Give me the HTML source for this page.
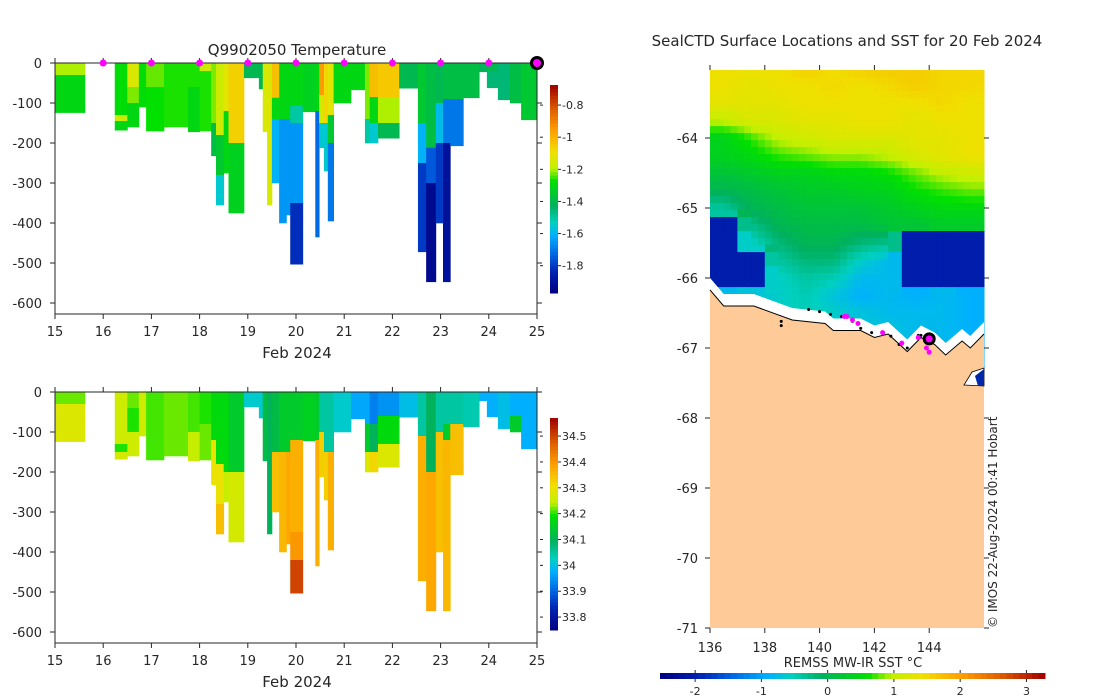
<!DOCTYPE html>
<html><head><meta charset="utf-8">
<style>
html,body{margin:0;padding:0;background:#fff;}
svg{display:block;font-family:"DejaVu Sans","Liberation Sans",sans-serif;}
</style></head>
<body>
<svg id="fig" width="1100" height="700" viewBox="0 0 1100 700" xmlns="http://www.w3.org/2000/svg">
<rect width="1100" height="700" fill="#fff"/>
</svg>
<script>
// ===== Profile chart data =====
const profileStart = [15.0,16.24,16.5,16.74,16.89,17.26,17.76,18.0,18.24,18.34,18.5,18.6,18.92,19.23,19.31,19.4,19.5,19.65,19.8,19.88,20.14,20.4,20.48,20.58,20.66,20.78,21.14,21.43,21.53,21.7,22.14,22.53,22.7,22.9,23.05,23.2,23.47,23.8,23.96,24.19,24.44,24.67];
const profileEnd = [15.62,16.5,16.74,16.89,17.26,17.76,18.0,18.24,18.34,18.5,18.6,18.92,19.23,19.31,19.4,19.5,19.65,19.8,19.88,20.14,20.4,20.48,20.58,20.66,20.78,21.14,21.43,21.53,21.7,22.14,22.53,22.7,22.9,23.05,23.2,23.47,23.8,23.96,24.19,24.44,24.67,25.0];
// layers: [bottomDepth, value] from surface down
const tempLayers = [
 [[30,-1.2],[124,-1.3]],
 [[130,-1.28],[145,-1.17],[168,-1.3]],
 [[60,-1.14],[100,-1.22],[160,-1.3]],
 [[110,-1.28]],
 [[60,-1.23],[170,-1.27]],
 [[160,-1.26]],
 [[60,-1.26],[172,-1.3]],
 [[20,-1.17],[170,-1.26]],
 [[150,-1.22],[232,-1.38]],
 [[180,-1.17],[280,-1.35],[355,-1.55]],
 [[120,-1.12],[275,-1.3]],
 [[200,-1.06],[375,-1.32]],
 [[37,-1.4]],
 [[65,-1.4]],
 [[172,-1.14]],
 [[355,-1.14]],
 [[87,-1.02],[140,-1.3],[300,-1.6]],
 [[140,-1.3],[400,-1.65]],
 [[140,-1.3],[380,-1.65]],
 [[107,-1.3],[150,-1.5],[350,-1.65],[503,-1.82]],
 [[122,-1.32]],
 [[120,-1.3],[435,-1.72]],
 [[80,-0.95],[150,-1.15],[212,-1.55]],
 [[150,-1.07],[270,-1.55]],
 [[130,-1.12],[200,-1.35],[395,-1.7]],
 [[100,-1.3]],
 [[67,-1.3]],
 [[140,-1.22],[200,-1.5]],
 [[85,-1.02],[150,-1.3],[200,-1.55]],
 [[85,-1.04],[150,-1.2],[188,-1.4]],
 [[63,-1.4]],
 [[150,-1.35],[250,-1.6],[472,-1.8]],
 [[212,-1.38],[300,-1.75],[547,-1.93]],
 [[100,-1.4],[200,-1.58],[400,-1.8]],
 [[90,-1.38],[200,-1.7],[547,-1.9]],
 [[90,-1.38],[207,-1.7]],
 [[87,-1.38]],
 [[22,-1.42]],
 [[20,-1.4],[62,-1.45]],
 [[92,-1.45]],
 [[100,-1.38]],
 [[142,-1.35]]
];
const salLayers = [
 [[30,34.22],[124,34.28]],
 [[130,34.26],[150,34.2],[168,34.27]],
 [[40,34.22],[100,34.2],[160,34.26]],
 [[110,34.26]],
 [[170,34.21]],
 [[160,34.22]],
 [[100,34.21],[172,34.25]],
 [[80,34.2],[170,34.22]],
 [[120,34.18],[232,34.3]],
 [[180,34.18],[280,34.3],[355,34.35]],
 [[200,34.18],[275,34.25]],
 [[200,34.15],[375,34.27]],
 [[37,34.02]],
 [[65,34.02]],
 [[172,34.12]],
 [[355,34.1]],
 [[150,34.12],[300,34.35]],
 [[150,34.15],[400,34.36]],
 [[150,34.15],[380,34.38]],
 [[120,34.15],[350,34.37],[420,34.4],[503,34.5]],
 [[122,34.16]],
 [[120,34.15],[435,34.37]],
 [[100,34.05],[212,34.33]],
 [[150,34.05],[270,34.33]],
 [[150,34.05],[395,34.37]],
 [[100,34.02]],
 [[67,33.97]],
 [[80,33.97],[150,34.15],[200,34.28]],
 [[80,33.93],[150,34.1],[200,34.32]],
 [[60,33.95],[130,34.18],[188,34.28]],
 [[63,34.0]],
 [[110,34.05],[472,34.37]],
 [[200,34.1],[547,34.38]],
 [[100,34.05],[400,34.35]],
 [[80,34.05],[120,34.15],[547,34.36]],
 [[80,34.05],[207,34.35]],
 [[87,34.04]],
 [[22,33.98]],
 [[62,33.98]],
 [[92,34.0]],
 [[60,33.98],[100,34.15]],
 [[142,33.98]]
];
const dayTicks = [15,16,17,18,19,20,21,22,23,24,25];
const depthTicks = [0,-100,-200,-300,-400,-500,-600];
const markerDays = [16,17,18,19,20,21,22,23,24];
const currentDay = 25;
const tempTicks = [-0.8,-1,-1.2,-1.4,-1.6,-1.8];
const salTicks = [34.5,34.4,34.3,34.2,34.1,34,33.9,33.8];

// ===== Map data =====
const sstLons = [136,137,138,139,140,141,142,143,144,145];
const sstLats = [-63,-63.25,-63.5,-63.75,-64,-64.25,-64.5,-64.75,-65,-65.25,-65.5,-65.75,-66,-66.25,-66.5,-66.75,-67];
const sstGrid = [
 [1.4,1.4,1.4,1.6,1.4,1.6,1.6,1.6,1.5,1.5],
 [1.4,1.3,1.4,1.4,1.5,1.4,1.5,1.6,1.5,1.5],
 [1.3,1.3,1.3,1.4,1.4,1.4,1.4,1.4,1.5,1.4],
 [1.0,1.2,1.2,1.3,1.3,1.4,1.4,1.3,1.4,1.4],
 [0.4,0.7,1.0,1.1,1.2,1.2,1.2,1.3,1.3,1.4],
 [0.4,0.5,0.7,0.8,0.9,0.9,1.0,1.2,1.3,1.4],
 [0.2,0.3,0.4,0.4,0.5,0.5,0.6,0.8,1.0,1.1],
 [0.0,0.1,0.2,0.3,0.3,0.4,0.4,0.6,0.7,0.8],
 [-0.4,0.0,0.1,0.2,0.2,0.2,0.3,0.4,0.5,0.5],
 [-2,-0.3,0.0,0.1,0.1,0.1,0.2,0.2,0.3,0.3],
 [-2,-0.6,-0.2,0.0,0.0,-0.2,-0.3,-2,-2,-2],
 [-2,-2,-0.4,-0.2,-0.2,-0.6,-0.8,-2,-2,-2],
 [-2,-2,-0.6,-0.4,-0.5,-0.8,-0.8,-2,-2,-2],
 [-0.8,-0.7,-0.6,-0.5,-0.7,-0.9,-0.8,-0.9,-0.8,-0.9],
 [-0.8,-0.7,-0.6,-0.5,-0.6,-0.7,-0.8,-0.8,-0.8,-0.9],
 [-0.8,-0.7,-0.6,-0.5,-0.6,-0.7,-0.7,-0.8,-0.8,-0.9],
 [-0.7,-0.7,-0.6,-0.5,-0.6,-0.7,-0.7,-0.8,-0.8,-0.9]
];
const coastLons = [136,136.5,137.6,139,140.2,140.5,141.5,142,142.5,143.2,143.7,144.2,144.6,145.2,145.5,146];
const coastLats = [-66.17,-66.4,-66.4,-66.6,-66.65,-66.75,-66.75,-66.85,-66.8,-67.05,-66.85,-66.95,-67.1,-66.9,-67.0,-66.8];
const stationLons = [140.9,141.2,141.4,142.3,143.0,143.6,143.9,144.0,141.0];
const stationLats = [-66.55,-66.6,-66.65,-66.78,-66.93,-66.85,-67.0,-67.06,-66.55];
const trackLons = [139.6,140.0,140.4,140.8,141.2,141.5,141.9,142.6,142.9,143.2,143.6,143.7,138.6,138.6];
const trackLats = [-66.45,-66.48,-66.52,-66.55,-66.62,-66.72,-66.78,-66.83,-66.95,-67.0,-66.82,-66.82,-66.62,-66.68];
const currentLon = 144.0, currentLat = -66.87;
const lonTicks = [136,138,140,142,144];
const latTicks = [-64,-65,-66,-67,-68,-69,-70,-71];
const sstTicks = [-2,-1,0,1,2,3];

// ===== helpers =====
const NS = 'http://www.w3.org/2000/svg';
const svg = document.getElementById('fig');
function mk(tag, attrs, parent) {
  const e = document.createElementNS(NS, tag);
  for (const k in attrs) e.setAttribute(k, attrs[k]);
  (parent || svg).appendChild(e);
  return e;
}
const stops = [[0,[0,0,128]],[0.1,[0,32,176]],[0.18,[0,96,224]],[0.28,[0,176,255]],[0.34,[0,208,192]],[0.42,[0,176,96]],[0.54,[0,224,0]],[0.6,[192,240,0]],[0.68,[240,224,0]],[0.78,[255,160,0]],[0.88,[224,96,0]],[1,[160,0,0]]];
function cmap(t) {
  t = Math.max(0, Math.min(1, t));
  for (let i = 1; i < stops.length; i++) {
    if (t <= stops[i][0]) {
      const a = stops[i-1], b = stops[i], f = (t - a[0]) / (b[0] - a[0]);
      const c = a[1].map((v, j) => Math.round(v + (b[1][j] - v) * f));
      return 'rgb(' + c.join(',') + ')';
    }
  }
  return 'rgb(160,0,0)';
}
function text(x, y, s, size, anchor, name, extra) {
  const t = mk('text', Object.assign({x: x, y: y, 'font-size': size, 'text-anchor': anchor || 'middle', fill: '#262626'}, extra || {}));
  t.textContent = s;
  
  
  return t;
}

// ===== profile panel =====
function panel(y0, layers, vmin, vmax, ticks, cbTop, cbBot, title, prefix, showMarkers) {
  const xL = 55, xR = 537, yBot = y0 + 251;
  const xs = d => xL + (d - 15) / 10 * (xR - xL);
  const ys = z => y0 + z * 0.4;
  const g = mk('g', {});
  
  
  layers.forEach((lay, i) => {
    let top = 0;
    lay.forEach(seg => {
      const r = mk('rect', {x: xs(profileStart[i]), y: ys(top), width: xs(profileEnd[i]) - xs(profileStart[i]) + 0.4, height: ys(seg[0]) - ys(top) + 0.3, fill: cmap((seg[1] - vmin) / (vmax - vmin))}, g);
      
      
      top = seg[0];
    });
  });
  const box = mk('rect', {x: xL, y: y0, width: xR - xL, height: yBot - y0, fill: 'none', stroke: '#262626', 'stroke-width': 1});
  
  
  depthTicks.forEach(d => {
    const y = ys(-d);
    mk('line', {x1: xL - 5, x2: xL, y1: y, y2: y, stroke: '#262626'});
    mk('line', {x1: xR, x2: xR + 5, y1: y, y2: y, stroke: '#262626'});
    text(xL - 13, y + 5, String(d), 13, 'end', prefix + '-y-tick-label');
  });
  dayTicks.forEach(d => {
    const x = xs(d);
    mk('line', {x1: x, x2: x, y1: yBot, y2: yBot + 5, stroke: '#262626'});
    mk('line', {x1: x, x2: x, y1: y0, y2: y0 - 5, stroke: '#262626'});
    text(x, yBot + 22, String(d), 13, 'middle', prefix + '-x-tick-label');
  });
  text(297, yBot + 44, 'Feb 2024', 15, 'middle', prefix + '-x-axis-title');
  if (title) text(297, y0 - 8, title, 15, 'middle', 'chart-title', {'xml:space': 'preserve'});
  if (showMarkers) {
    markerDays.forEach(d => {
      const c = mk('circle', {cx: xs(d), cy: y0, r: 3.5, fill: '#ff00ff'});
      
      
    });
    const c = mk('circle', {cx: xs(currentDay), cy: y0, r: 5.5, fill: '#ff00ff', stroke: '#000', 'stroke-width': 3});
    
    
  }
  const cbx = 550, cbw = 8, n = 60;
  const cb = mk('g', {});
  
  
  for (let i = 0; i < n; i++) {
    const t = (i + 0.5) / n;
    mk('rect', {x: cbx, y: cbBot - (i + 1) / n * (cbBot - cbTop), width: cbw, height: (cbBot - cbTop) / n + 0.5, fill: cmap(t)}, cb);
  }
  ticks.forEach(v => {
    const y = cbBot - (v - vmin) / (vmax - vmin) * (cbBot - cbTop);
    mk('line', {x1: cbx + cbw, x2: cbx + cbw + 3, y1: y, y2: y, stroke: '#262626'});
    mk('line', {x1: cbx - 10, x2: cbx - 7, y1: y, y2: y, stroke: '#262626'});
    text(cbx + cbw + 4, y + 4, String(v), 11, 'start', prefix + '-colorbar-tick-label');
  });
}
panel(63, tempLayers, -1.97, -0.675, tempTicks, 85, 293, 'Q9902050  Temperature', 'temperature', true);
panel(392, salLayers, 33.75, 34.57, salTicks, 418, 630, null, 'salinity', false);

// ===== map =====
const mx0 = 710, mx1 = 984, my0 = 70, my1 = 628;
const lonX = lon => mx0 + (lon - 136) / 10 * (mx1 - mx0);
const latY = lat => 138 + (-64 - lat) * 70;
const sMin = -2.53, sMax = 3.28;
const map = mk('g', {});


mk('rect', {x: mx0, y: my0, width: mx1 - mx0, height: my1 - my0, fill: '#fdca98'}, map);
// sample grid (nearest for masked -2 values, bilinear otherwise) at finer pixel size
function sampleSST(lon, lat) {
  const fc = Math.max(0, Math.min(sstLons.length - 1, lon - 136 - 0.5));
  const fr = Math.max(0, Math.min(sstLats.length - 1, (-63 - lat) / 0.25));
  const c0 = Math.floor(fc), r0 = Math.floor(fr);
  const c1 = Math.min(c0 + 1, sstLons.length - 1), r1 = Math.min(r0 + 1, sstLats.length - 1);
  const near = sstGrid[Math.round(fr)][Math.round(fc)];
  if (near <= -1.9) return near;
  const vals = [sstGrid[r0][c0], sstGrid[r0][c1], sstGrid[r1][c0], sstGrid[r1][c1]];
  if (vals.some(v => v <= -1.9)) return near;
  const dx = fc - c0, dy = fr - r0;
  return vals[0] * (1 - dx) * (1 - dy) + vals[1] * dx * (1 - dy) + vals[2] * (1 - dx) * dy + vals[3] * dx * dy;
}
const dLon = 0.25, dLat = 0.1;
for (let lat = -63.03; lat > -67.3; lat -= dLat) {
  for (let lon = 136; lon < 146; lon += dLon) {
    const v = sampleSST(lon + dLon / 2, lat - dLat / 2);
    const y1 = Math.max(my0, latY(lat));
    const cell = mk('rect', {x: lonX(lon), y: y1, width: lonX(lon + dLon) - lonX(lon) + 0.5, height: latY(lat - dLat) - y1 + 0.5, fill: cmap((v - sMin) / (sMax - sMin))}, map);
    
    
  }
}
let strip = coastLons.map((lo, i) => lonX(lo) + ',' + (latY(coastLats[i]) - 12)).join(' ');
strip += ' ' + coastLons.slice().reverse().map((lo, i) => lonX(lo) + ',' + latY(coastLats[coastLats.length - 1 - i])).join(' ');
const st = mk('polygon', {points: strip, fill: '#fff'}, map);


let land = coastLons.map((lo, i) => lonX(lo) + ',' + latY(coastLats[i])).join(' ') + ' ' + mx1 + ',' + my1 + ' ' + mx0 + ',' + my1;
const ld = mk('polygon', {points: land, fill: '#fdca98', stroke: 'none'}, map);


const cl = mk('polyline', {points: coastLons.map((lo, i) => lonX(lo) + ',' + latY(coastLats[i])).join(' '), fill: 'none', stroke: '#000', 'stroke-width': 1}, map);


mk('polygon', {points: '964,385 972,372 984,368 984,386', fill: '#fff', stroke: '#000', 'stroke-width': 0.8}, map);
mk('polygon', {points: '975,376 984,369 984,386 978,386', fill: '#0028a8'}, map);
trackLons.forEach((lo, i) => {
  const c = mk('circle', {cx: lonX(lo), cy: latY(trackLats[i]), r: 1.5, fill: '#000'});
  
  
});
stationLons.forEach((lo, i) => {
  const c = mk('circle', {cx: lonX(lo), cy: latY(stationLats[i]), r: 2.5, fill: '#ff00ff'});
  
  
});
const cur = mk('circle', {cx: lonX(currentLon), cy: latY(currentLat), r: 5, fill: '#ff00ff', stroke: '#000', 'stroke-width': 3});


lonTicks.forEach(lo => {
  const x = lonX(lo);
  mk('line', {x1: x, x2: x, y1: 65, y2: 70, stroke: '#262626'});
  mk('line', {x1: x, x2: x, y1: my1, y2: my1 + 5, stroke: '#262626'});
  text(x, 652, String(lo), 13, 'middle', 'map-x-tick-label');
});
latTicks.forEach(la => {
  const y = latY(la);
  mk('line', {x1: 705, x2: 710, y1: y, y2: y, stroke: '#262626'});
  mk('line', {x1: mx1, x2: mx1 + 5, y1: y, y2: y, stroke: '#262626'});
  text(698, y + 5, String(la), 13, 'end', 'map-y-tick-label');
});
text(847, 46, 'SealCTD Surface Locations and SST for 20 Feb 2024', 15, 'middle', 'map-title');
text(997, 628, '© IMOS 22-Aug-2024 00:41 Hobart', 12, 'start', 'copyright-text', {transform: 'rotate(-90 997 628)'});
const cbg = mk('g', {});


const cx0 = 660, cx1 = 1045, nb = 60;
for (let i = 0; i < nb; i++) {
  mk('rect', {x: cx0 + i / nb * (cx1 - cx0), y: 673, width: (cx1 - cx0) / nb + 0.5, height: 6, fill: cmap((i + 0.5) / nb)}, cbg);
}
sstTicks.forEach(v => {
  const x = cx0 + (v - sMin) / (sMax - sMin) * (cx1 - cx0);
  mk('line', {x1: x, x2: x, y1: 670, y2: 673, stroke: '#262626'});
  mk('line', {x1: x, x2: x, y1: 679, y2: 682, stroke: '#262626'});
  text(x, 695, String(v), 11, 'middle', 'sst-colorbar-tick-label');
});
text(853, 667, 'REMSS MW-IR SST °C', 13, 'middle', 'sst-colorbar-title');
</script>
</body></html>
